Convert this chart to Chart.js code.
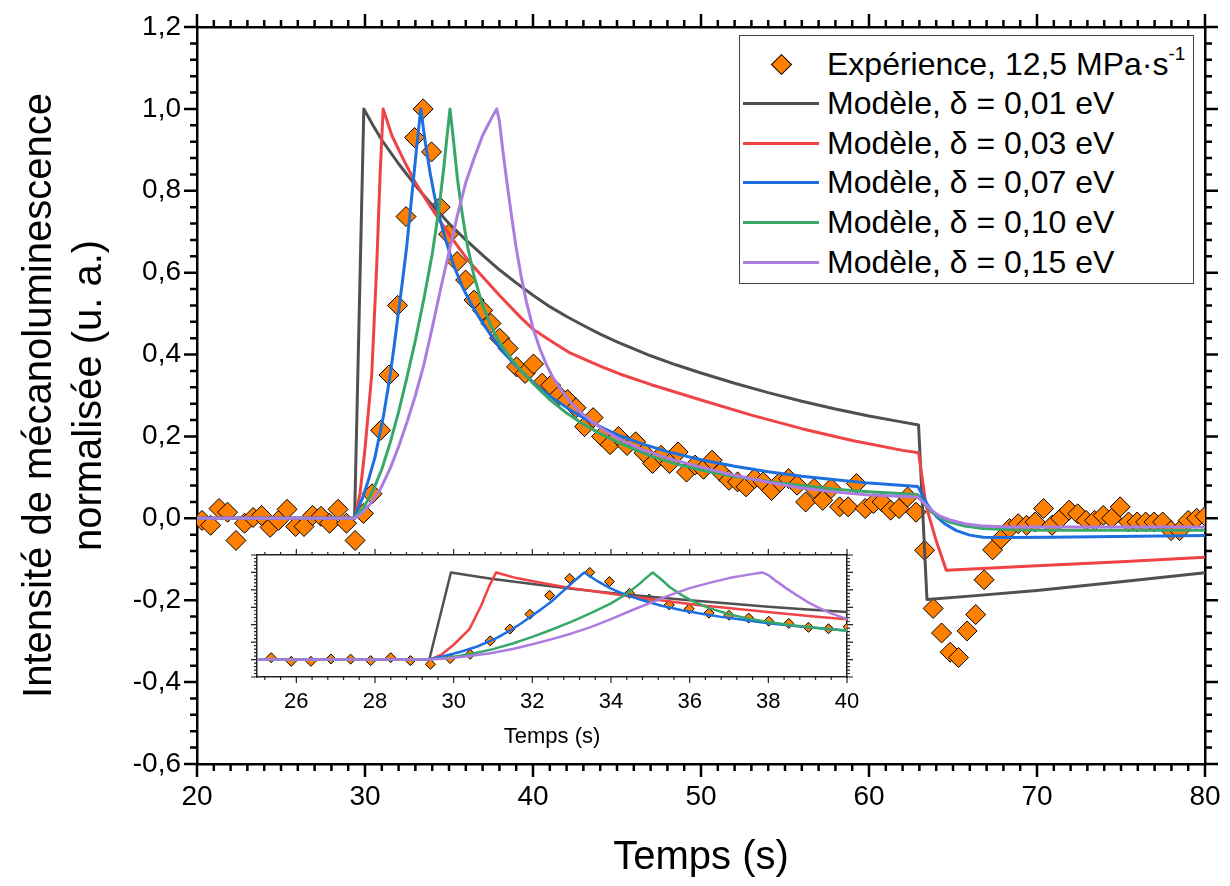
<!DOCTYPE html>
<html>
<head>
<meta charset="utf-8">
<script src="https://cdn.jsdelivr.net/npm/chart.js@4.4.1/dist/chart.umd.min.js"></script>
<style>
  body { margin: 0; background: #fff; }
  #wrap { position: relative; width: 1230px; height: 886px; background: #fff; overflow: hidden; }
  #main { position: absolute; left: 0; top: 0; }
  #inset { position: absolute; left: 200px; top: 540px; }
  #legend { position: absolute; left: 739px; top: 35px; width: 455px; height: 249px; box-sizing: border-box;
            border: 1.5px solid #444; background: #fff; font: 32px 'Liberation Sans', Arial, sans-serif; color: #000; }
  .row { position: absolute; left: 0; width: 100%; height: 40px; display: flex; align-items: center; white-space: nowrap; }
  .sample { width: 76px; margin-left: 3px; display: flex; align-items: center; justify-content: center; }
  .txt { margin-left: 8px; }
  sup { font-size: 19px; vertical-align: 15px; line-height: 0; }
</style>
</head>
<body>
<div id="wrap">
  <canvas id="main" width="1230" height="886"></canvas>
  <canvas id="inset" width="670" height="215"></canvas>
  <div id="legend"></div>
</div>
<script>
// Experimental points (time in s, normalised intensity)
const expTime = [
  20.30, 20.81, 21.31, 21.82, 22.32, 22.83, 23.34, 23.84, 24.35, 24.85,
  25.36, 25.87, 26.37, 26.88, 27.38, 27.89, 28.40, 28.90, 29.41, 29.91,
  30.42, 30.93, 31.43, 31.94, 32.44, 32.95, 33.46, 33.96, 34.47, 34.97,
  35.48, 35.99, 36.49, 37.00, 37.50, 38.01, 38.52, 39.02, 39.53, 40.03,
  40.54, 41.05, 41.55, 42.06, 42.56, 43.07, 43.58, 44.08, 44.59, 45.09,
  45.60, 46.11, 46.61, 47.12, 47.62, 48.13, 48.64, 49.14, 49.65, 50.15,
  50.66, 51.17, 51.67, 52.18, 52.68, 53.19, 53.70, 54.20, 54.71, 55.21,
  55.72, 56.23, 56.73, 57.24, 57.74, 58.25, 58.76, 59.26, 59.77, 60.27,
  60.78, 61.29, 61.79, 62.30, 62.80, 63.31, 63.82, 64.32, 64.83, 65.33,
  65.84, 66.35, 66.85, 67.36, 67.86, 68.37, 68.88, 69.38, 69.89, 70.39,
  70.90, 71.41, 71.91, 72.42, 72.92, 73.43, 73.94, 74.44, 74.95, 75.45,
  75.96, 76.47, 76.97, 77.48, 77.98, 78.49, 79.00, 79.50, 80.01
];
const expValue = [
  -0.005, -0.017, 0.024, 0.015, -0.054, -0.012, 0.002, 0.007, -0.022, -0.005,
  0.022, -0.020, -0.020, 0.007, 0.005, -0.012, 0.022, -0.012, -0.054, 0.012,
  0.060, 0.215, 0.350, 0.520, 0.737, 0.930, 1.000, 0.895, 0.760, 0.694,
  0.627, 0.582, 0.533, 0.508, 0.476, 0.440, 0.415, 0.370, 0.354, 0.377,
  0.330, 0.325, 0.300, 0.290, 0.270, 0.224, 0.246, 0.200, 0.180, 0.200,
  0.178, 0.187, 0.160, 0.134, 0.154, 0.134, 0.162, 0.113, 0.130, 0.120,
  0.142, 0.113, 0.093, 0.089, 0.077, 0.097, 0.089, 0.068, 0.089, 0.097,
  0.081, 0.040, 0.073, 0.044, 0.073, 0.028, 0.028, 0.085, 0.024, 0.036,
  0.040, 0.020, 0.024, 0.052, 0.015, -0.078, -0.220, -0.280, -0.327, -0.340,
  -0.275, -0.235, -0.150, -0.077, -0.050, -0.025, -0.013, -0.017, -0.009, 0.024,
  -0.017, 0.000, 0.020, 0.011, -0.005, -0.005, 0.007, 0.000, 0.028, -0.009,
  -0.009, -0.009, -0.009, -0.009, -0.030, -0.030, -0.005, 0.000, 0.005
];

// Model curves
const m001Time = [20, 29.38, 29.93, 30.5, 31.0, 32.0, 33.0, 34.0, 35.0, 36.0, 37.0, 38.0, 39.0, 40.0, 41.0, 42.0, 43.0, 44.0, 45.0, 46.0, 47.0, 48.5, 50.0, 52.0, 54.0, 56.0, 58.0, 60.0, 62.0, 62.95, 63.45, 66.0, 70.0, 75.0, 80.0];
const m001Value = [0, 0, 1.0, 0.958, 0.924, 0.866, 0.813, 0.765, 0.72, 0.68, 0.643, 0.607, 0.575, 0.545, 0.517, 0.493, 0.471, 0.45, 0.431, 0.414, 0.397, 0.375, 0.355, 0.33, 0.307, 0.286, 0.267, 0.25, 0.235, 0.228, -0.198, -0.19, -0.176, -0.155, -0.133];

const m003Time = [20, 29.4, 29.7, 30.0, 30.4, 30.7, 30.9, 31.08, 31.6, 32.28, 33.0, 33.87, 34.6, 35.46, 36.2, 37.04, 38.04, 39.23, 40.0, 41.0, 42.2, 44.0, 45.2, 47.0, 50.0, 53.0, 56.0, 59.0, 62.0, 62.95, 63.4, 64.0, 64.6, 70.0, 75.0, 80.0];
const m003Value = [0, 0, 0.06, 0.17, 0.35, 0.62, 0.84, 1.0, 0.935, 0.877, 0.82, 0.763, 0.718, 0.668, 0.627, 0.588, 0.543, 0.492, 0.462, 0.435, 0.404, 0.372, 0.352, 0.327, 0.289, 0.252, 0.219, 0.19, 0.166, 0.16, 0.03, -0.055, -0.127, -0.116, -0.106, -0.095];

const m007Time = [20, 29.35, 29.9, 30.2, 30.6, 31.1, 31.45, 31.73, 31.98, 32.24, 32.48, 32.68, 32.88, 33.08, 33.32, 33.6, 33.87, 34.1, 34.4, 34.8, 35.26, 35.8, 36.3, 36.8, 37.4, 38.0, 38.8, 39.6, 40.4, 41.2, 42.2, 43.2, 44.2, 45.2, 46.5, 48.0, 50.0, 52.0, 54.0, 56.0, 58.0, 60.0, 62.9, 63.2, 63.5, 64.0, 64.5, 65.2, 66.0, 66.8, 68.0, 70.8, 80.0];
const m007Value = [0, 0, 0.055, 0.093, 0.15, 0.25, 0.337, 0.419, 0.5, 0.582, 0.663, 0.745, 0.826, 0.908, 1.0, 0.915, 0.845, 0.795, 0.74, 0.68, 0.62, 0.565, 0.525, 0.49, 0.453, 0.418, 0.38, 0.348, 0.318, 0.293, 0.265, 0.241, 0.22, 0.201, 0.182, 0.163, 0.143, 0.127, 0.114, 0.103, 0.094, 0.086, 0.078, 0.055, 0.032, 0.005, -0.013, -0.03, -0.041, -0.046, -0.047, -0.046, -0.042];

const m010Time = [20, 29.35, 29.9, 30.5, 31.0, 31.5, 32.0, 32.5, 33.0, 33.5, 34.0, 34.4, 34.7, 34.9, 35.06, 35.25, 35.5, 35.8, 36.1, 36.5, 37.0, 37.5, 38.0, 38.6, 39.2, 40.0, 41.0, 42.0, 43.0, 44.0, 45.2, 47.0, 48.5, 50.0, 52.0, 54.0, 56.0, 58.0, 60.0, 62.9, 63.3, 63.7, 64.2, 64.8, 65.7, 66.8, 68.5, 70.8, 80.0];
const m010Value = [0, 0, 0.025, 0.07, 0.12, 0.185, 0.26, 0.345, 0.435, 0.535, 0.645, 0.755, 0.86, 0.94, 1.0, 0.93, 0.83, 0.74, 0.665, 0.59, 0.52, 0.47, 0.43, 0.395, 0.365, 0.33, 0.29, 0.257, 0.23, 0.207, 0.183, 0.152, 0.133, 0.118, 0.102, 0.09, 0.08, 0.071, 0.065, 0.058, 0.035, 0.016, 0.002, -0.009, -0.019, -0.025, -0.028, -0.029, -0.029];

const m015Time = [20, 29.35, 29.8, 30.3, 30.9, 31.5, 32.0, 32.5, 33.0, 33.5, 34.0, 34.5, 35.0, 35.5, 36.0, 36.5, 37.0, 37.5, 37.84, 38.0, 38.2, 38.45, 38.7, 39.0, 39.3, 39.6, 40.0, 40.4, 40.8, 41.2, 41.7, 42.2, 42.8, 43.5, 44.2, 45.2, 46.5, 48.0, 50.0, 52.0, 54.0, 56.0, 58.0, 60.0, 62.9, 63.3, 63.7, 64.2, 64.8, 65.7, 66.8, 68.5, 70.8, 80.0];
const m015Value = [0, 0, 0.012, 0.035, 0.07, 0.122, 0.175, 0.235, 0.3, 0.375, 0.465, 0.56, 0.65, 0.74, 0.82, 0.88, 0.935, 0.975, 1.0, 0.97, 0.9, 0.82, 0.745, 0.66, 0.59, 0.53, 0.465, 0.415, 0.375, 0.343, 0.312, 0.285, 0.26, 0.237, 0.216, 0.192, 0.168, 0.147, 0.125, 0.105, 0.088, 0.074, 0.064, 0.057, 0.052, 0.037, 0.02, 0.006, -0.004, -0.013, -0.019, -0.021, -0.021, -0.021];

const models = [
  { label: 'Modèle, δ = 0,01 eV', color: '#505050', t: m001Time, v: m001Value },
  { label: 'Modèle, δ = 0,03 eV', color: '#F04346', t: m003Time, v: m003Value },
  { label: 'Modèle, δ = 0,07 eV', color: '#1C6FE0', t: m007Time, v: m007Value },
  { label: 'Modèle, δ = 0,10 eV', color: '#37A86A', t: m010Time, v: m010Value },
  { label: 'Modèle, δ = 0,15 eV', color: '#AD7CE0', t: m015Time, v: m015Value }
];
const expLabel = 'Expérience, 12,5 MPa·s';
const orange = '#FF8000';

const FONT = "'Liberation Sans', Arial, sans-serif";
Chart.defaults.font.family = FONT;
Chart.defaults.color = '#000';

function pairs(t, v) {
    return t.map((x, i) => ({ x: x, y: v[i] }));
}

function buildDatasets(pointR, lineW) {
    const sets = [{
        label: expLabel,
        data: pairs(expTime, expValue),
        pointStyle: 'rectRot',
        pointRadius: pointR,
        backgroundColor: orange,
        borderColor: '#000',
        borderWidth: 1,
        showLine: false,
        order: 10
    }];
    models.forEach((m, i) => {
        sets.push({
            label: m.label,
            data: pairs(m.t, m.v),
            showLine: true,
            borderColor: m.color,
            backgroundColor: m.color,
            borderWidth: lineW,
            borderJoinStyle: 'round',
            pointRadius: 0,
            tension: 0,
            order: 5 - i
        });
    });
    return sets;
}

// draws major + minor tick marks on the four sides of the frame
const frameTicks = {
    id: 'frameTicks',
    afterDraw(chart, args, o) {
        const { ctx, chartArea: a } = chart;
        const xs = chart.scales.x, ys = chart.scales.y;
        const each = (scale, minor, major, fn) => {
            const i0 = Math.ceil(scale.min / minor - 1e-6), i1 = Math.floor(scale.max / minor + 1e-6);
            for (let i = i0; i <= i1; i++) {
                const v = i * minor;
                const big = Math.abs(v / major - Math.round(v / major)) < 1e-6;
                fn(scale.getPixelForValue(v), big ? o.majorLen : o.minorLen);
            }
        };
        ctx.save();
        ctx.strokeStyle = o.color;
        ctx.lineWidth = o.width;
        ctx.beginPath();
        each(xs, o.xMinor, o.xMajor, (p, len) => {
            ctx.moveTo(p, a.bottom); ctx.lineTo(p, a.bottom + len * o.bottomDir);
            ctx.moveTo(p, a.top); ctx.lineTo(p, a.top - len);
        });
        each(ys, o.yMinor, o.yMajor, (p, len) => {
            ctx.moveTo(a.left, p); ctx.lineTo(a.left - len, p);
            ctx.moveTo(a.right, p); ctx.lineTo(a.right + len, p);
        });
        ctx.stroke();
        ctx.restore();
    }
};

const comma = v => v.toFixed(1).replace('.', ',');
const noGrid = { drawOnChartArea: false, drawTicks: false };
// invisible tick marks only used to push the labels away from the frame
const gapGrid = len => ({ drawOnChartArea: false, drawTicks: true, tickLength: len, tickColor: 'rgba(0,0,0,0)' });

const mainChart = new Chart(document.getElementById('main'), {
    type: 'scatter',
    data: { datasets: buildDatasets(10, 3) },
    plugins: [frameTicks],
    options: {
        responsive: false,
        animation: false,
        events: [],
        layout: { padding: 0 },
        plugins: {
            legend: { display: false },
            tooltip: { enabled: false },
            frameTicks: { color: '#000', width: 2.5, majorLen: 13, minorLen: 7, bottomDir: 1,
                          xMinor: 1, xMajor: 10, yMinor: 0.04, yMajor: 0.2 }
        },
        scales: {
            x: {
                type: 'linear', position: 'bottom', min: 20, max: 80,
                ticks: { stepSize: 10, font: { size: 28 }, padding: 3, color: '#000' },
                grid: gapGrid(13),
                border: { display: true, color: '#000', width: 2.5 },
                title: { display: true, text: 'Temps (s)', font: { size: 40, lineHeight: 1.3 }, padding: { top: 0, bottom: 2 }, color: '#000' },
                afterFit: s => { s.height = 122; }
            },
            x2: {
                type: 'linear', position: 'top', min: 20, max: 80,
                ticks: { display: false }, grid: noGrid,
                border: { display: true, color: '#000', width: 2.5 },
                afterFit: s => { s.height = 27; }
            },
            y: {
                type: 'linear', position: 'left', min: -0.6, max: 1.2,
                ticks: { stepSize: 0.2, font: { size: 28 }, padding: 3, color: '#000', callback: comma },
                grid: gapGrid(13),
                border: { display: true, color: '#000', width: 2.5 },
                title: { display: true, text: ['Intensité de mécanoluminescence', 'normalisée (u. a.)'],
                         font: { size: 40, lineHeight: 1.25 }, padding: { top: 15, bottom: 0 }, color: '#000' },
                afterFit: s => { s.width = 197; }
            },
            y2: {
                type: 'linear', position: 'right', min: -0.6, max: 1.2,
                ticks: { display: false }, grid: noGrid,
                border: { display: true, color: '#000', width: 2.5 },
                afterFit: s => { s.width = 25; }
            }
        }
    }
});

// inset: same data, zoomed on the rising edge
new Chart(document.getElementById('inset'), {
    type: 'scatter',
    data: { datasets: buildDatasets(5, 2.5) },
    plugins: [frameTicks, {
        id: 'insetBg',
        beforeDraw(chart) {
            const { ctx, chartArea: a } = chart;
            ctx.save();
            ctx.fillStyle = '#fff';
            ctx.fillRect(a.left, a.top, a.right - a.left, a.bottom - a.top);
            ctx.restore();
        }
    }],
    options: {
        responsive: false,
        animation: false,
        events: [],
        layout: { padding: 0 },
        plugins: {
            legend: { display: false },
            tooltip: { enabled: false },
            frameTicks: { color: '#222', width: 1.2, majorLen: 6, minorLen: 3, bottomDir: 1,
                          xMinor: 0.4, xMajor: 2, yMinor: 0.04, yMajor: 0.2 }
        },
        scales: {
            x: {
                type: 'linear', position: 'bottom', min: 25, max: 40,
                ticks: { stepSize: 2, includeBounds: false, font: { size: 22 }, padding: 2, color: '#000' },
                grid: gapGrid(10),
                border: { display: true, color: '#222', width: 1.5 },
                title: { display: true, text: 'Temps (s)', font: { size: 22 }, padding: { top: 0, bottom: 5 }, color: '#000' },
                afterFit: s => { s.height = 78; }
            },
            x2: {
                type: 'linear', position: 'top', min: 25, max: 40,
                ticks: { display: false }, grid: noGrid,
                border: { display: true, color: '#222', width: 1.5 },
                afterFit: s => { s.height = 15; }
            },
            y: {
                type: 'linear', position: 'left', min: -0.2, max: 1.2,
                ticks: { display: false }, grid: noGrid,
                border: { display: true, color: '#222', width: 1.5 },
                afterFit: s => { s.width = 57; }
            },
            y2: {
                type: 'linear', position: 'right', min: -0.2, max: 1.2,
                ticks: { display: false }, grid: noGrid,
                border: { display: true, color: '#222', width: 1.5 },
                afterFit: s => { s.width = 23; }
            }
        }
    }
});

// legend built from the main chart datasets
const legend = document.getElementById('legend');
mainChart.data.datasets.forEach((ds, i) => {
    const row = document.createElement('div');
    row.className = 'row';
    row.style.top = (8 + i * 39.6) + 'px';
    const sample = document.createElement('span');
    sample.className = 'sample';
    const mark = document.createElement('span');
    if (ds.showLine) {
        mark.style.cssText = `display:block;width:76px;height:3px;background:${ds.borderColor}`;
    } else {
        mark.style.cssText = `display:block;width:13px;height:13px;background:${orange};border:1px solid #000;transform:rotate(45deg)`;
    }
    sample.appendChild(mark);
    const txt = document.createElement('span');
    txt.className = 'txt';
    txt.textContent = ds.label;
    if (!ds.showLine) {
        const sup = document.createElement('sup');
        sup.textContent = '-1';
        txt.appendChild(sup);
    }
    row.appendChild(sample);
    row.appendChild(txt);
    legend.appendChild(row);
});
</script>
</body>
</html>
